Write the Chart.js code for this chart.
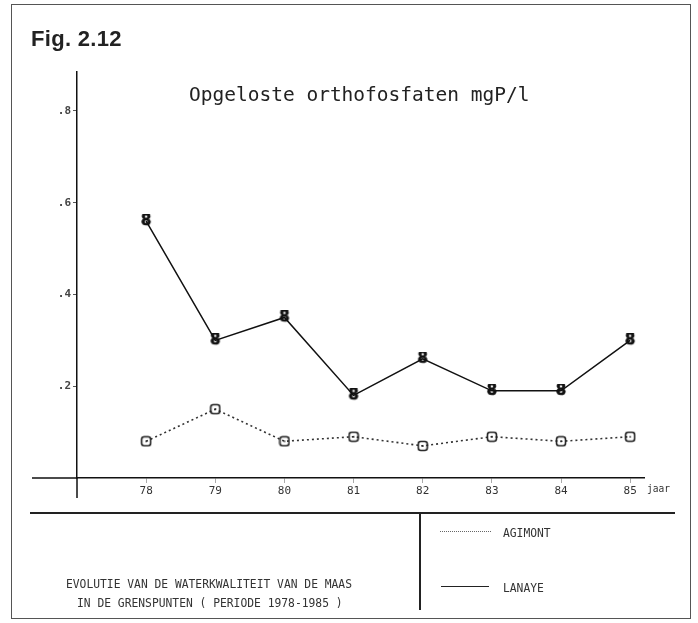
<!DOCTYPE html>
<html>
<head>
<meta charset="utf-8">
<script src="https://cdn.jsdelivr.net/npm/chart.js@4.4.1/dist/chart.umd.min.js"></script>
<style>
  html, body { margin:0; padding:0; background:#fff; }
  #wrap { position:relative; width:698px; height:623px; overflow:hidden; background:#fff; }
  #c { position:absolute; left:0; top:0; }
  .t { position:absolute; white-space:nowrap; color:#222; }
  .mono { font-family:'DejaVu Sans Mono', monospace; }
  .cond { font-family:'DejaVu Sans Mono', monospace; font-size:13px; line-height:13px; color:#333; transform-origin:0 50%; transform:scaleX(0.87); }
  .ln { position:absolute; }
</style>
</head>
<body>
<div id="wrap">
  <canvas id="c" width="698" height="623"></canvas>
  <!-- frame -->
  <div class="ln" style="left:11px;top:4px;width:678px;height:613px;border:1.5px solid #555;"></div>
  <div class="ln" style="left:30px;top:512px;width:645px;height:0;border-top:2px solid #222;"></div>
  <div class="ln" style="left:419px;top:513px;width:0;height:97px;border-left:2px solid #222;"></div>
  <!-- texts -->
  <div class="t" style="left:31px;top:28px;font:bold 22px/22px 'Liberation Sans', Arial, sans-serif;color:#222;letter-spacing:0.3px;">Fig. 2.12</div>
  <div class="t mono" style="left:189px;top:85px;font-size:19.5px;line-height:19.5px;color:#222;">Opgeloste orthofosfaten mgP/l</div>
  <div class="t cond" style="left:647px;top:483px;font-size:11px;line-height:11px;">jaar</div>
  <div class="t cond" id="b1" style="left:66px;top:577px;">EVOLUTIE VAN DE WATERKWALITEIT VAN DE MAAS</div>
  <div class="t cond" id="b2" style="left:77px;top:596px;">IN DE GRENSPUNTEN ( PERIODE 1978-1985 )</div>
  <div class="ln" style="left:440px;top:531px;width:51px;height:0;border-top:1.5px dotted #666;"></div>
  <div class="t cond" style="left:503px;top:526px;">AGIMONT</div>
  <div class="ln" style="left:441px;top:586px;width:48px;height:0;border-top:1.5px solid #222;"></div>
  <div class="t cond" style="left:503px;top:581px;">LANAYE</div>
</div>
<script>
// ---- data ----
const years   = [78, 79, 80, 81, 82, 83, 84, 85];
const agimont = [0.08, 0.15, 0.08, 0.09, 0.07, 0.09, 0.08, 0.09];
const lanaye  = [0.56, 0.30, 0.35, 0.18, 0.26, 0.19, 0.19, 0.30];
const yTicks  = [0.2, 0.4, 0.6, 0.8];
const xTicks  = years;

// ---- point markers ----
function markerB() {
  const c = document.createElement('canvas'); c.width = 14; c.height = 14;
  const g = c.getContext('2d');
  g.fillStyle = '#111';
  g.strokeStyle = '#111';
  g.lineWidth = 0.6;
  g.font = 'bold 15px "DejaVu Sans", sans-serif';
  g.textAlign = 'center'; g.textBaseline = 'middle';
  g.fillText('8', 7, 7.5);
  g.strokeText('8', 7, 7.5);
  return c;
}
function markerSq() {
  const c = document.createElement('canvas'); c.width = 12; c.height = 12;
  const g = c.getContext('2d');
  g.strokeStyle = '#222'; g.lineWidth = 1.6;
  const r = 2.5, x = 1.5, y = 1.5, w = 9, h = 9;
  g.beginPath();
  g.moveTo(x + r, y); g.lineTo(x + w - r, y); g.quadraticCurveTo(x + w, y, x + w, y + r);
  g.lineTo(x + w, y + h - r); g.quadraticCurveTo(x + w, y + h, x + w - r, y + h);
  g.lineTo(x + r, y + h); g.quadraticCurveTo(x, y + h, x, y + h - r);
  g.lineTo(x, y + r); g.quadraticCurveTo(x, y, x + r, y);
  g.closePath(); g.stroke();
  g.fillStyle = '#222'; g.fillRect(5.3, 5.3, 1.5, 1.5);
  return c;
}

const extendAxes = {
  id: 'extendAxes',
  afterDraw(chart) {
    const { ctx } = chart;
    const xs = chart.scales.x, ys = chart.scales.y;
    const x0 = xs.getPixelForValue(xs.min);
    const y0 = ys.getPixelForValue(0);
    ctx.save();
    ctx.strokeStyle = '#111'; ctx.lineWidth = 1.5;
    ctx.beginPath();
    ctx.moveTo(x0, y0); ctx.lineTo(x0, y0 + 20);
    ctx.moveTo(32, y0); ctx.lineTo(x0, y0);
    ctx.stroke();
    ctx.restore();
  }
};

new Chart(document.getElementById('c'), {
  type: 'line',
  data: {
    datasets: [
      {
        label: 'AGIMONT',
        data: years.map((x, i) => ({ x, y: agimont[i] })),
        borderColor: '#333', borderWidth: 1.6, borderDash: [2, 3],
        pointStyle: markerSq(), tension: 0, fill: false
      },
      {
        label: 'LANAYE',
        data: years.map((x, i) => ({ x, y: lanaye[i] })),
        borderColor: '#111', borderWidth: 1.5,
        pointStyle: markerB(), tension: 0, fill: false
      }
    ]
  },
  options: {
    responsive: false,
    animation: false,
    devicePixelRatio: 1,
    layout: { padding: { left: 0, right: 54, top: 72, bottom: 125 } },
    plugins: { legend: { display: false }, title: { display: false }, tooltip: { enabled: false } },
    scales: {
      x: {
        type: 'linear', min: 77, max: 85.2,
        afterFit(s) { s.height = 20; },
        afterBuildTicks(s) { s.ticks = xTicks.map(v => ({ value: v })); },
        grid: { display: true, drawOnChartArea: false, drawTicks: true, tickLength: 5, color: '#aaa', lineWidth: 1 },
        border: { display: true, color: '#111', width: 1.5 },
        ticks: {
          padding: 2, color: '#333',
          font: { family: "'DejaVu Sans Mono', monospace", size: 11 },
          callback: v => String(v)
        }
      },
      y: {
        type: 'linear', min: 0, max: 0.885,
        afterFit(s) { s.width = 77; },
        afterBuildTicks(s) { s.ticks = yTicks.map(v => ({ value: v })); },
        grid: { display: true, drawOnChartArea: false, drawTicks: true, tickLength: 4, color: '#555', lineWidth: 1 },
        border: { display: true, color: '#111', width: 1.5 },
        ticks: {
          padding: 2, color: '#444',
          font: { family: "'DejaVu Sans Mono', monospace", size: 11, weight: 'bold' },
          callback: v => v.toFixed(1).replace(/^0\./, '.')
        }
      }
    }
  },
  plugins: [extendAxes]
});
</script>
</body>
</html>
